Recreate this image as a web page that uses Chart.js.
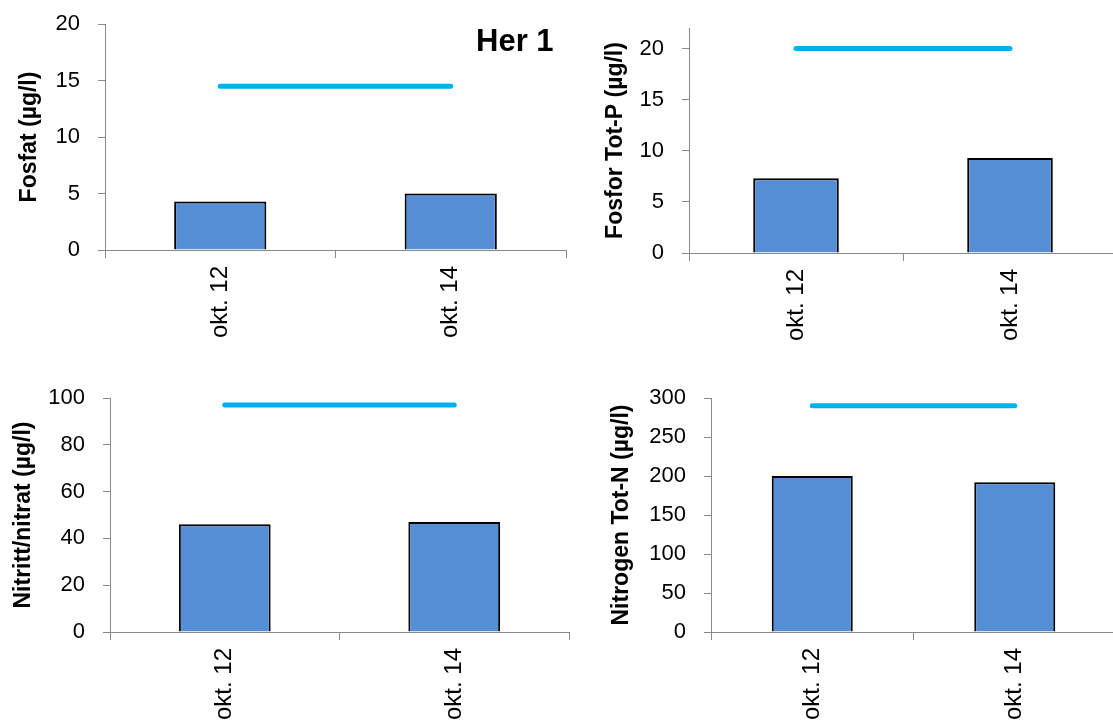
<!DOCTYPE html>
<html>
<head>
<meta charset="utf-8">
<script src="https://cdn.jsdelivr.net/npm/chart.js@4.4.1/dist/chart.umd.min.js"></script>
<style>
  html, body { margin: 0; padding: 0; background: #fff; overflow: hidden; }
  #wrap { position: relative; width: 1113px; height: 722px; overflow: hidden; }
  canvas { position: absolute; }
</style>
</head>
<body>
<div id="wrap">
  <canvas id="c1"></canvas>
  <canvas id="c2"></canvas>
  <canvas id="c3"></canvas>
  <canvas id="c4"></canvas>
</div>
<script>
// data
const categories = ["okt. 12", "okt. 14"];

const fosfat = [4.3, 5.0];
const fosfatLimit = [14.5, 14.5];

const totP = [7.3, 9.3];
const totPLimit = [20, 20];

const nitrat = [46, 47];
const nitratLimit = [97, 97];

const totN = [200, 192];
const totNLimit = [290, 290];

// y axis ranges: max / step per panel
const yMax = [20, 22, 100, 300];
const yStep = [5, 5, 20, 50];

const axisGray = "#898989";
const barBlue = "#558ED5";
const lineBlue = "#00B0F0";

Chart.defaults.font.family = '"Liberation Sans", Arial, sans-serif';
Chart.defaults.color = "#000";

const herLabel = {
  id: "herLabel",
  afterDraw(chart) {
    const ctx = chart.ctx;
    ctx.save();
    ctx.font = 'bold 31px "Liberation Sans", Arial, sans-serif';
    ctx.fillStyle = "#000";
    ctx.textBaseline = "alphabetic";
    ctx.fillText("Her 1", 476, 51);
    ctx.restore();
  }
};

// g: canvas box and wanted plot area, in page pixels
function makePanel(id, g, title, bars, limit, max, step, titleX, plugins) {
  const cv = document.getElementById(id);
  cv.style.left = g.cl + "px";
  cv.style.top = g.ct + "px";
  cv.width = g.cw;
  cv.height = g.ch;

  const yWidth = g.left - g.cl;
  const xHeight = g.ct + g.ch - g.bottom;
  const padTop = g.top - g.ct;
  const padRight = g.cl + g.cw - g.right;

  new Chart(cv.getContext("2d"), {
    data: {
      labels: categories,
      datasets: [
        {
          type: "line",
          data: limit,
          borderColor: lineBlue,
          borderWidth: 5,
          borderCapStyle: "round",
          pointRadius: 0,
          order: 0
        },
        {
          type: "bar",
          data: bars,
          backgroundColor: barBlue,
          borderColor: "#000",
          borderWidth: 2,
          categoryPercentage: 1,
          barPercentage: 0.4,
          order: 1
        }
      ]
    },
    options: {
      responsive: false,
      animation: false,
      devicePixelRatio: 1,
      layout: { padding: { top: padTop, right: padRight, left: 0, bottom: 0 } },
      plugins: { legend: { display: false }, tooltip: { enabled: false } },
      scales: {
        x: {
          offset: true,
          grid: { drawOnChartArea: false, tickLength: 8, color: axisGray, offset: true },
          border: { color: axisGray, width: 1 },
          ticks: { minRotation: 90, maxRotation: 90, padding: 8, font: { size: 24 }, color: "#000" },
          afterFit: s => { s.height = xHeight; s.paddingLeft = 0; s.paddingRight = 0; }
        },
        y: {
          min: 0,
          max: max,
          grid: { drawOnChartArea: false, tickLength: 7, color: axisGray },
          border: { color: axisGray, width: 1 },
          ticks: { stepSize: step, includeBounds: false, padding: 18, font: { size: 22 }, color: "#000" },
          title: {
            display: true,
            text: title,
            font: { size: 23, weight: "bold" },
            color: "#000",
            padding: { top: titleX - g.cl - 13.8, bottom: 0 }
          },
          afterFit: s => { s.width = yWidth; s.paddingTop = 0; s.paddingBottom = 0; }
        }
      }
    },
    plugins: plugins || []
  });
}

makePanel("c1", { cl: 0, ct: 0, cw: 575, ch: 362, left: 105, top: 24, right: 566, bottom: 250 },
  "Fosfat (µg/l)", fosfat, fosfatLimit, yMax[0], yStep[0], 30, [herLabel]);
makePanel("c2", { cl: 580, ct: 0, cw: 545, ch: 362, left: 689, top: 28, right: 1117, bottom: 253 },
  "Fosfor Tot-P (µg/l)", totP, totPLimit, yMax[1], yStep[1], 616);
makePanel("c3", { cl: 0, ct: 362, cw: 580, ch: 360, left: 110, top: 398, right: 569, bottom: 632 },
  "Nitritt/nitrat (µg/l)", nitrat, nitratLimit, yMax[2], yStep[2], 24);
makePanel("c4", { cl: 580, ct: 362, cw: 540, ch: 360, left: 711, top: 398, right: 1116, bottom: 632 },
  "Nitrogen Tot-N (µg/l)", totN, totNLimit, yMax[3], yStep[3], 622);
</script>
</body>
</html>
